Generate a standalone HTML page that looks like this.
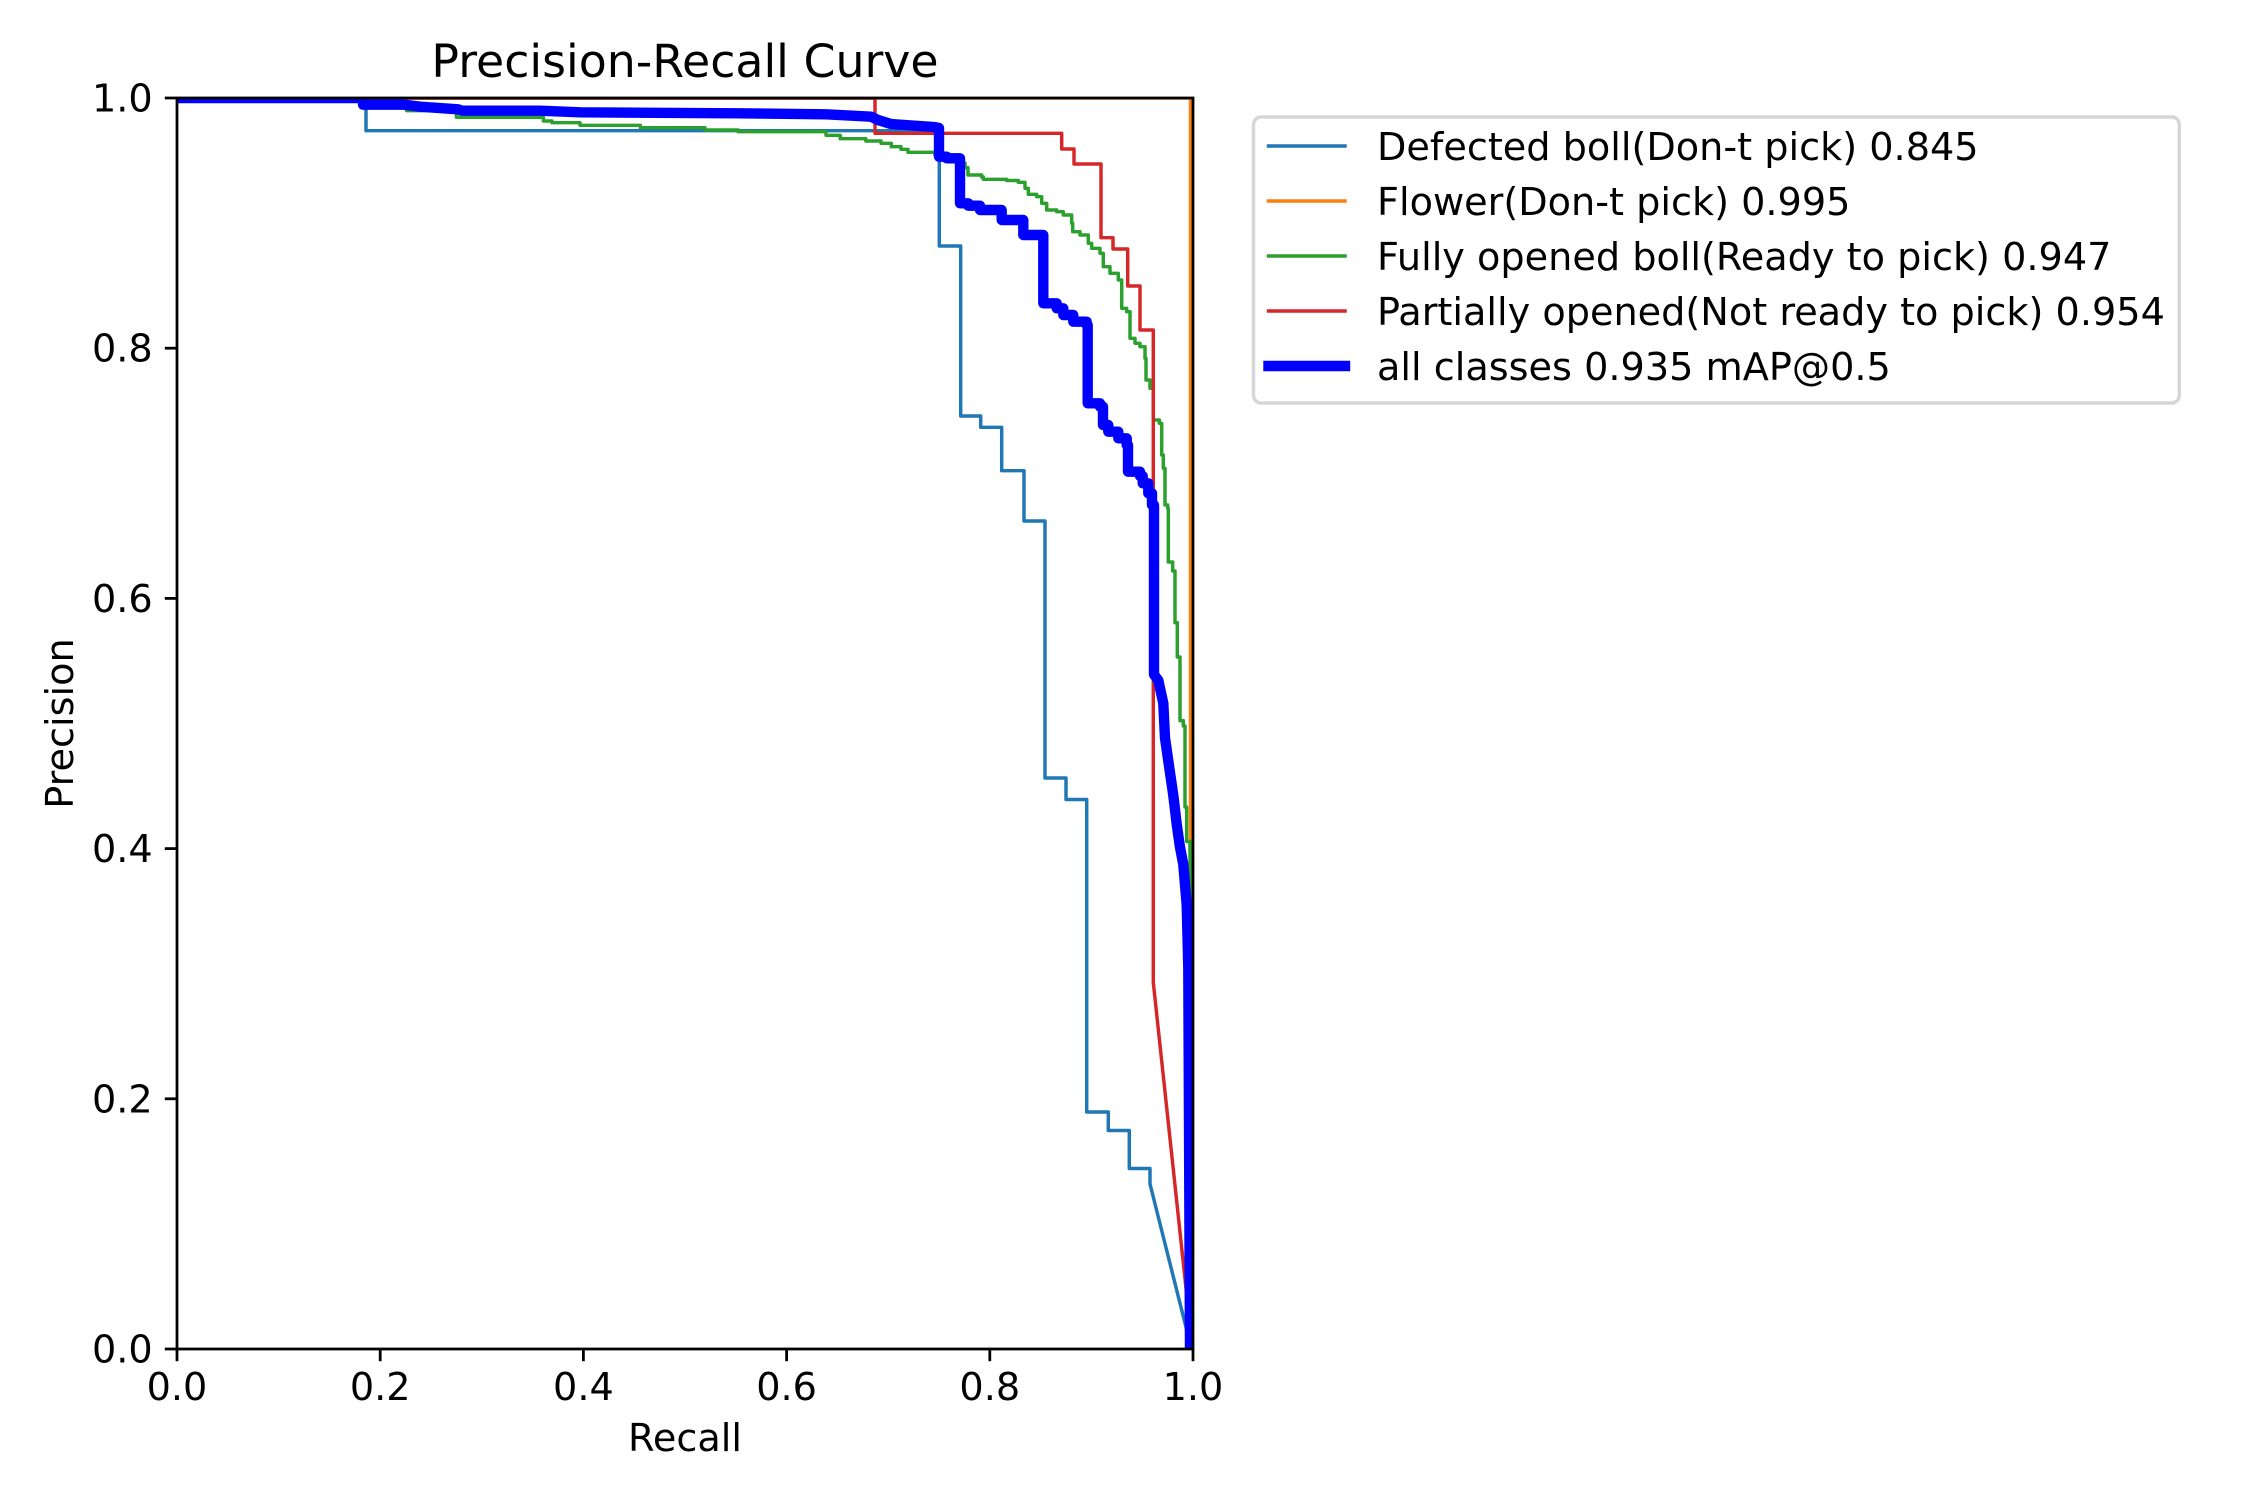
<!DOCTYPE html>
<html>
<head>
<meta charset="utf-8">
<style>
html,body{margin:0;padding:0;background:#ffffff;}
svg{display:block;}
text{font-family:"DejaVu Sans","Liberation Sans",sans-serif;fill:#000;}
</style>
</head>
<body>
<svg width="2250" height="1500" viewBox="0 0 2250 1500" xmlns="http://www.w3.org/2000/svg">
<rect x="0" y="0" width="2250" height="1500" fill="#ffffff"/>
<defs>
<clipPath id="ax"><rect x="177" y="98" width="1016" height="1251"/></clipPath>
</defs>

<g clip-path="url(#ax)" fill="none" stroke-linejoin="round" stroke-linecap="square">
<!-- Defected boll -->
<path stroke="#1f77b4" stroke-width="3.47" d="M177,98 H366 V130.7 H939.3 V246 H960.7 V416 H980.7 V427.3 H1001.7 V470.7 H1024 V521 H1045 V778 H1066 V799.5 H1086.7 V1112 H1108.3 V1130.5 H1129.3 V1168.5 H1150 V1184 L1191.5,1349"/>
<!-- Flower -->
<path stroke="#ff7f0e" stroke-width="3.47" d="M177,98 H1190.5 V1349"/>
<!-- Fully opened -->
<path stroke="#2ca02c" stroke-width="3.47" d="M177,98 H406.6 V110.6 H456.4 V117.3 H543.4 V121 H551.9 V122.7 H580 V125.3 H640.3 V127.7 H705 V130 H738.2 V131.7 H826 V135.3 H840.2 V138.7 H865.8 V141 H881 V143.3 H891.3 V146.7 H901 V149.3 H908 V152.3 H935 V155 H960 V163 H965 V167.7 H968 V175 H981.7 V177 H983.3 V179.3 H1006.7 V180.5 H1018.3 V182.3 H1025 V188.3 H1028.3 V194.3 H1036.7 V196.7 H1041.7 V203.3 H1046.7 V210 H1056.7 V211.7 H1063.3 V215 H1071.7 V223.3 H1072.7 V231.7 H1080 V235 H1088.3 V243.3 H1091.7 V248.3 H1100 V253.3 H1103.3 V266.7 H1110 V273.3 H1118.3 V280 H1121.7 V308.3 H1126.7 V311.7 H1130 V338.3 H1135 V343.3 H1140 V346.7 H1145 V358.3 H1146 V380 H1150 V388.3 H1153.3 V420 H1159.3 V423.3 H1161.7 V455 H1163.3 V468.3 H1165 V505 H1167.7 V508.3 H1168.3 V562 H1172.7 V571 H1175 V622.7 H1177.3 V657 H1180 V720.6 H1183.3 V726 H1185 V807 H1186.7 V841.5 H1190 V893 L1191,1000 L1192,1349"/>
<!-- Partially opened -->
<path stroke="#d62728" stroke-width="3.47" d="M177,98 H875 V133.3 H1061.7 V149 H1074 V164 H1101 V237.7 H1113 V249 H1127.7 V286 H1140 V330 H1153.3 V982.5 L1192.5,1349"/>
<!-- all classes -->
<path stroke="#0000ff" stroke-width="10.4" d="M177,98 H363 V104.7 H404 L420,106.7 L458,109.3 L462,110.7 H540 L580,112.3 L738,113.3 L826,114.3 L871,116.7 L878,120 L891,124 L934,127 L939,128 V156.7 H946.7 V158.3 H960 V203.3 H968.3 V205.7 H980 V210 H1001.7 V220 H1023.3 V235 H1043.3 V303.3 H1056.7 V308.3 H1063.3 V315 H1073.3 V321.7 H1086.7 V325 H1087.7 V403.3 H1100 V406.7 H1103 V425 H1108.3 V431.7 H1118.3 V438.3 H1126.7 V445 H1128 V471.7 H1140 V476 H1142.7 V483.3 H1148.3 V493.3 H1152 V505 H1154 V674.5 L1158.3,680.3 L1163.3,703.3 L1165,737.9 L1168.3,760.9 L1173.3,795.4 L1176.7,824.2 L1180,847.2 L1183.3,864.5 L1186.7,904.8 L1188.3,968 L1190,1349"/>
</g>

<!-- spines -->
<rect x="177" y="98" width="1016" height="1251" fill="none" stroke="#000" stroke-width="2.78" stroke-linejoin="miter"/>

<!-- x ticks -->
<g stroke="#000" stroke-width="2.78">
<line x1="177" y1="1349" x2="177" y2="1361.2"/>
<line x1="380.2" y1="1349" x2="380.2" y2="1361.2"/>
<line x1="583.4" y1="1349" x2="583.4" y2="1361.2"/>
<line x1="786.6" y1="1349" x2="786.6" y2="1361.2"/>
<line x1="989.8" y1="1349" x2="989.8" y2="1361.2"/>
<line x1="1193" y1="1349" x2="1193" y2="1361.2"/>
<!-- y ticks -->
<line x1="164.8" y1="1349" x2="177" y2="1349"/>
<line x1="164.8" y1="1098.8" x2="177" y2="1098.8"/>
<line x1="164.8" y1="848.6" x2="177" y2="848.6"/>
<line x1="164.8" y1="598.4" x2="177" y2="598.4"/>
<line x1="164.8" y1="348.2" x2="177" y2="348.2"/>
<line x1="164.8" y1="98" x2="177" y2="98"/>
</g>

<g font-size="38.2" text-anchor="middle">
<text x="177" y="1400">0.0</text>
<text x="380.2" y="1400">0.2</text>
<text x="583.4" y="1400">0.4</text>
<text x="786.6" y="1400">0.6</text>
<text x="989.8" y="1400">0.8</text>
<text x="1193" y="1400">1.0</text>
</g>
<g font-size="38.2" text-anchor="end">
<text x="152.7" y="1362.5">0.0</text>
<text x="152.7" y="1112.3">0.2</text>
<text x="152.7" y="862.1">0.4</text>
<text x="152.7" y="611.9">0.6</text>
<text x="152.7" y="361.7">0.8</text>
<text x="152.7" y="111.5">1.0</text>
</g>

<text x="685" y="1451" font-size="38.2" text-anchor="middle">Recall</text>
<text x="0" y="0" font-size="38.2" text-anchor="middle" transform="translate(73,723.5) rotate(-90)">Precision</text>
<text x="685" y="77" font-size="45.8" text-anchor="middle">Precision-Recall Curve</text>

<!-- legend -->
<rect x="1253.5" y="117" width="925.8" height="286" rx="7.6" ry="7.6" fill="#ffffff" fill-opacity="0.8" stroke="#d6d6d6" stroke-width="3.47"/>
<g stroke-linecap="square">
<line x1="1268.5" y1="146" x2="1345" y2="146" stroke="#1f77b4" stroke-width="3.47"/>
<line x1="1268.5" y1="201" x2="1345" y2="201" stroke="#ff7f0e" stroke-width="3.47"/>
<line x1="1268.5" y1="256" x2="1345" y2="256" stroke="#2ca02c" stroke-width="3.47"/>
<line x1="1268.5" y1="311" x2="1345" y2="311" stroke="#d62728" stroke-width="3.47"/>
<line x1="1268.5" y1="366" x2="1345" y2="366" stroke="#0000ff" stroke-width="10.4"/>
</g>
<g font-size="38.2">
<text x="1377" y="160">Defected boll(Don-t pick) 0.845</text>
<text x="1377" y="215">Flower(Don-t pick) 0.995</text>
<text x="1377" y="270">Fully opened boll(Ready to pick) 0.947</text>
<text x="1377" y="325">Partially opened(Not ready to pick) 0.954</text>
<text x="1377" y="380">all classes 0.935 mAP@0.5</text>
</g>
</svg>
</body>
</html>
